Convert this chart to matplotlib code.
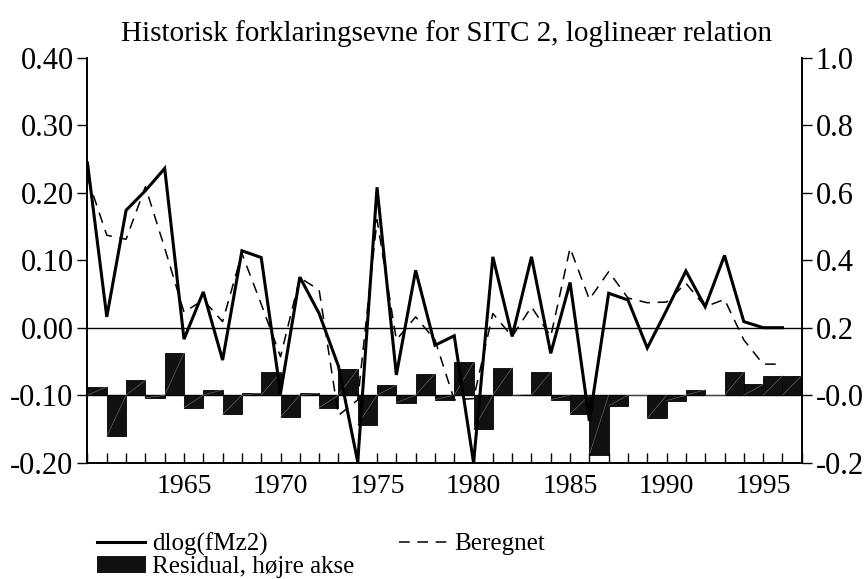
import numpy as np
import matplotlib
matplotlib.use("Agg")
import matplotlib.pyplot as plt

plt.rcParams['font.family'] = ['Liberation Serif', 'DejaVu Serif']
plt.rcParams['axes.unicode_minus'] = False

# data, aarene 1960-1996
years = list(range(1960, 1997))
dlog_fmz2 = [0.244, 0.016, 0.174, 0.203, 0.236, -0.017, 0.053, -0.048, 0.114, 0.104,
             -0.097, 0.075, 0.021, -0.057, -0.199, 0.208, -0.070, 0.085, -0.026, -0.012,
             -0.200, 0.105, -0.013, 0.105, -0.038, 0.067, -0.138, 0.051, 0.041, -0.030,
             0.026, 0.084, 0.031, 0.107, 0.009, 0.000, 0.000]
beregnet = [0.222, 0.137, 0.131, 0.209, 0.118, 0.023, 0.041, 0.009, 0.110, 0.035,
            -0.043, 0.074, 0.056, -0.130, -0.107, 0.160, -0.018, 0.016, -0.018, -0.107,
            -0.105, 0.021, -0.013, 0.031, -0.013, 0.118, 0.042, 0.083, 0.044, 0.037,
            0.038, 0.066, 0.031, 0.042, -0.018, -0.054, -0.054]
residual = [0.025, -0.122, 0.044, -0.008, 0.125, -0.037, 0.016, -0.057, 0.006, 0.068,
            -0.065, 0.006, -0.037, 0.077, -0.087, 0.030, -0.022, 0.064, -0.013, 0.097,
            -0.101, 0.082, 0.002, 0.068, -0.013, -0.056, -0.176, -0.031, 0.000, -0.069,
            -0.016, 0.016, 0.000, 0.068, 0.032, 0.058, 0.058]

left_ticks = [-0.2, -0.1, 0.0, 0.1, 0.2, 0.3, 0.4]
left_labels = ['-0.20', '-0.10', '0.00', '0.10', '0.20', '0.30', '0.40']
right_ticks = [-0.2, 0.0, 0.2, 0.4, 0.6, 0.8, 1.0]
right_labels = ['-0.2', '-0.0', '0.2', '0.4', '0.6', '0.8', '1.0']
year_labels = [1965, 1970, 1975, 1980, 1985, 1990, 1995]

fig = plt.figure(figsize=(8.67, 5.79), dpi=100)
ax = fig.add_axes([0.1009, 0.2009, 0.8238, 0.6994])
ax2 = ax.twinx()

# residualer paa hoejre akse
bars = ax2.bar(years, residual, width=1.0, align='edge', color='#111111',
               edgecolor='black', linewidth=0.6, zorder=2)
for x, r in zip(years, residual):
    ax2.plot([x, x + 1], [0, r] if r > 0 else [r, 0], color='#777777', lw=0.4, zorder=3)
ax2.axhline(0, color='black', lw=1.0, zorder=1)
ax2.set_ylim(-0.2, 1.0)
ax2.set_yticks(right_ticks)
ax2.set_yticklabels(right_labels)

ax.set_zorder(ax2.get_zorder() + 1)
ax.patch.set_visible(False)
ax.axhline(0, color='black', lw=1.0)
l1, = ax.plot(years, dlog_fmz2, color='black', lw=2.2, solid_joinstyle='miter')
l2, = ax.plot(years, beregnet, color='black', lw=1.1, dashes=(7, 5))
ax.set_ylim(-0.2, 0.4)
ax.set_xlim(1960, 1997)
ax.set_yticks(left_ticks)
ax.set_yticklabels(left_labels)
ax.set_xticks(list(range(1960, 1998)), minor=True)
ax.set_xticks(year_labels)
ax.set_xticklabels([str(y) for y in year_labels])

ax.tick_params(axis='y', direction='out', length=7, width=1, labelsize=22, pad=3)
ax2.tick_params(axis='y', direction='out', length=7, width=1, labelsize=22, pad=3)
ax.tick_params(axis='x', which='both', direction='in', length=7, width=1, labelsize=20, pad=8)
ax.spines['top'].set_visible(False)
ax2.spines['top'].set_visible(False)
for s in ax.spines.values():
    s.set_linewidth(1.2)
for s in ax2.spines.values():
    s.set_linewidth(1.2)

fig.text(0.515, 0.942, 'Historisk forklaringsevne for SITC 2, loglineær relation',
         ha='center', va='center', fontsize=21)

fig.legend([l1, bars, l2], ['dlog(fMz2)', 'Residual, højre akse', 'Beregnet'],
           ncol=2, loc='upper left', bbox_to_anchor=(0.112, 0.081), frameon=False,
           fontsize=18, handlelength=1.9, handleheight=0.6, handletextpad=0.3,
           columnspacing=1.8, labelspacing=0.0, borderpad=0, borderaxespad=0)

fig.savefig('out.png', dpi=100)
